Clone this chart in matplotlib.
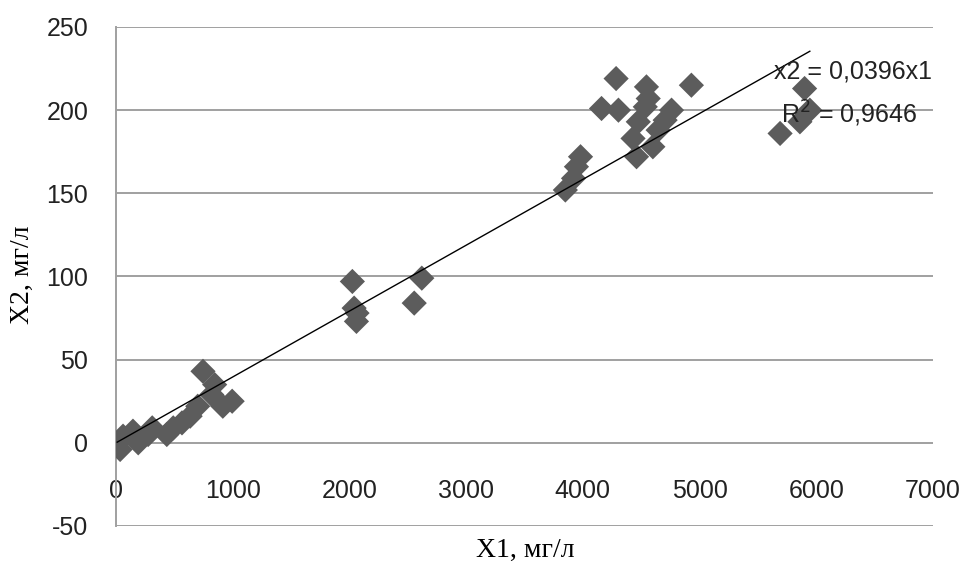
import numpy as np
import matplotlib.pyplot as plt

plt.rcParams['axes.unicode_minus'] = False

# X1, mg/l
x1 = [10, 35, 60, 145, 190, 275, 310, 435, 490, 565, 635, 700, 745, 820, 845, 915, 995,
      2025, 2040, 2060, 2065, 2555, 2620,
      3850, 3920, 3945, 3980, 4160, 4285, 4305, 4430, 4460, 4475, 4535, 4545, 4560,
      4600, 4645, 4705, 4760, 4930,
      5690, 5860, 5900, 5945]
# X2, mg/l
x2 = [0, -4, 4, 7, 0, 5, 9, 5, 9, 12, 16, 22, 43, 29, 35, 22, 25,
      97, 81, 73, 78, 84, 99,
      152, 159, 166, 172, 201, 219, 200, 183, 172, 193, 202, 214, 207,
      178, 188, 194, 200, 215,
      186, 193, 213, 200]

slope = 0.0396
eq_text = 'x2 = 0,0396x1'
r2_text = 'R$^2$ = 0,9646'
xticks = [0, 1000, 2000, 3000, 4000, 5000, 6000, 7000]
yticks = [-50, 0, 50, 100, 150, 200, 250]

sans = ['Liberation Sans Narrow', 'Liberation Sans', 'DejaVu Sans']
serif = ['Liberation Serif', 'DejaVu Serif']

fig = plt.figure(figsize=(9.63, 5.66), dpi=100)
ax = fig.add_axes([0.1205, 0.0707, 0.8483, 0.8816])

for y in yticks:
    ax.axhline(y, color='#a0a0a0', lw=1.4, zorder=1)

ax.scatter(x1, x2, marker='D', s=165, color='#5c5c5c', edgecolors='none', zorder=3)

xl = np.array([min(x1), max(x1)])
ax.plot(xl, slope * xl, color='black', lw=1, zorder=4)

ax.set_xlim(0, 7000)
ax.set_ylim(-50, 250)
ax.set_xticks(xticks)
ax.set_yticks(yticks)

for s in ['top', 'right', 'bottom']:
    ax.spines[s].set_visible(False)
ax.spines['left'].set_color('#a0a0a0')
ax.spines['left'].set_linewidth(1.4)
ax.spines['bottom'].set_position(('data', 0))

ax.tick_params(axis='x', length=0, pad=26)
ax.tick_params(axis='y', length=0, pad=20)
for lab in ax.get_xticklabels() + ax.get_yticklabels():
    lab.set_family(sans)
    lab.set_fontsize(18)
    lab.set_color('#222222')

ax.text(6990, 223, eq_text, family=sans, fontsize=18, color='#222222',
        ha='right', va='center', zorder=5)
ax.text(6860, 198, r2_text, family=sans, fontsize=18, color='#222222',
        ha='right', va='center', zorder=5)

fig.text(0.545, 0.028, 'X1, мг/л', family=serif, fontsize=20, ha='center', va='center')
fig.text(0.023, 0.515, 'X2, мг/л', family=serif, fontsize=20, ha='center', va='center',
         rotation=90)

fig.savefig('out.png', dpi=100, facecolor='white')
